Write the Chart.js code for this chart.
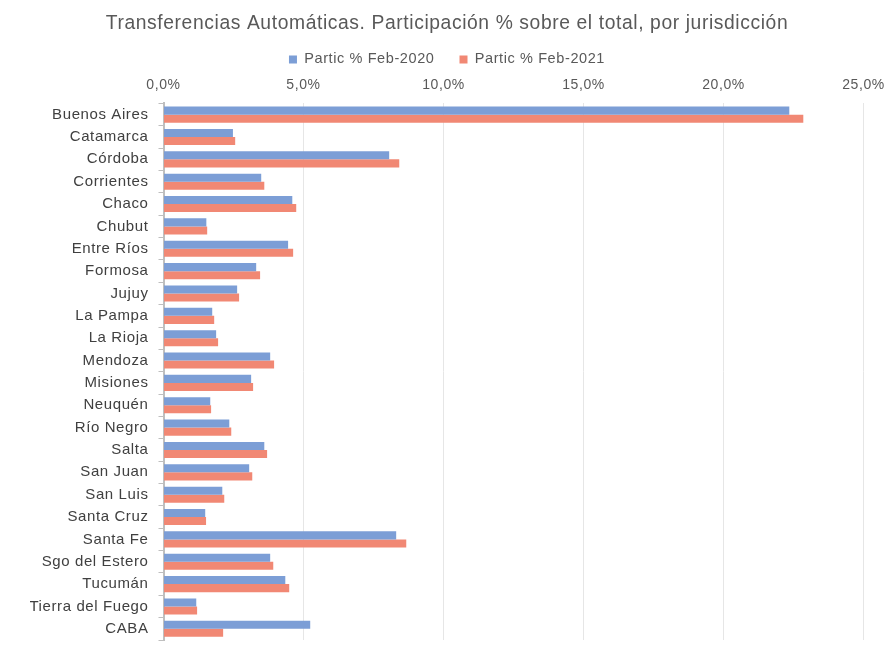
<!DOCTYPE html>
<html>
<head>
<meta charset="utf-8">
<script src="https://cdn.jsdelivr.net/npm/chart.js@4"></script>
<style>
  html, body { margin: 0; padding: 0; background: #fff; }
  canvas { display: block; }
</style>
</head>
<body>
<canvas id="chart" width="894" height="646"></canvas>
<script>
// Data
const jurisdicciones = [
    'Buenos Aires', 'Catamarca', 'Córdoba', 'Corrientes', 'Chaco', 'Chubut',
    'Entre Ríos', 'Formosa', 'Jujuy', 'La Pampa', 'La Rioja', 'Mendoza',
    'Misiones', 'Neuquén', 'Río Negro', 'Salta', 'San Juan', 'San Luis',
    'Santa Cruz', 'Santa Fe', 'Sgo del Estero', 'Tucumán', 'Tierra del Fuego', 'CABA'
];
const partic2020 = [
    22.35, 2.48, 8.06, 3.49, 4.60, 1.53, 4.45, 3.31, 2.63, 1.74, 1.88, 3.81,
    3.13, 1.67, 2.35, 3.60, 3.06, 2.10, 1.49, 8.31, 3.81, 4.35, 1.17, 5.24
];
const partic2021 = [
    22.85, 2.56, 8.42, 3.60, 4.74, 1.56, 4.63, 3.45, 2.70, 1.81, 1.95, 3.95,
    3.20, 1.70, 2.42, 3.70, 3.17, 2.17, 1.52, 8.67, 3.92, 4.49, 1.20, 2.13
];
const seriesNames = ['Partic % Feb-2020', 'Partic % Feb-2021'];
const xTicks = [0, 5, 10, 15, 20, 25];

const colors = { blue: '#7c9ed6', red: '#f18874' };

function pct(v) {
    return v.toFixed(1).replace('.', ',') + '%';
}

// the reference text is a bit spaced out, canvas can do that directly
const spacing = {
    id: 'spacing',
    beforeLayout: chart => { chart.ctx.letterSpacing = '0.6px'; },
    beforeDraw: chart => { chart.ctx.letterSpacing = '0.6px'; }
};

const ctx = document.getElementById('chart').getContext('2d');
new Chart(ctx, {
    type: 'bar',
    data: {
        labels: jurisdicciones,
        datasets: [
            { label: seriesNames[0], data: partic2020, backgroundColor: colors.blue },
            { label: seriesNames[1], data: partic2021, backgroundColor: colors.red }
        ]
    },
    plugins: [spacing],
    options: {
        indexAxis: 'y',
        responsive: false,
        animation: false,
        devicePixelRatio: 1,
        categoryPercentage: 0.72,
        barPercentage: 1.0,
        // same padding both sides so title and legend stay centred on the page
        layout: { padding: { left: 30, right: 30, top: 8, bottom: 6 } },
        scales: {
            x: {
                position: 'top',
                min: 0,
                max: 25,
                afterBuildTicks: axis => { axis.ticks = xTicks.map(v => ({ value: v })); },
                // chart.js puts the tick padding above the labels too, drop it
                afterFit: s => { s.height -= 10; s.paddingRight = 30.5; },
                ticks: {
                    callback: v => pct(v),
                    color: '#595959',
                    font: { family: 'Liberation Sans', size: 14 },
                    padding: 10
                },
                grid: {
                    color: '#e6e6e6',
                    drawTicks: false
                },
                border: { display: false }
            },
            y: {
                afterFit: s => { s.width = 133.5; s.paddingTop = 0; s.paddingBottom = 0; },
                ticks: {
                    color: '#404040',
                    font: { family: 'Liberation Sans', size: 15 },
                    padding: 10
                },
                grid: {
                    offset: true,
                    drawOnChartArea: false,
                    color: '#bfbfbf',
                    tickLength: 5
                },
                border: { color: '#bfbfbf', width: 2 }
            }
        },
        plugins: {
            title: {
                display: true,
                text: 'Transferencias Automáticas. Participación % sobre el total, por jurisdicción',
                color: '#595959',
                font: { family: 'Liberation Sans', size: 19.3, weight: 'normal' },
                padding: { top: 4, bottom: -8 }
            },
            legend: {
                labels: {
                    color: '#595959',
                    font: { family: 'Liberation Sans', size: 14.5 },
                    boxWidth: 8,
                    boxHeight: 8,
                    padding: 25
                }
            },
            tooltip: { enabled: false }
        }
    }
});
</script>
</body>
</html>
